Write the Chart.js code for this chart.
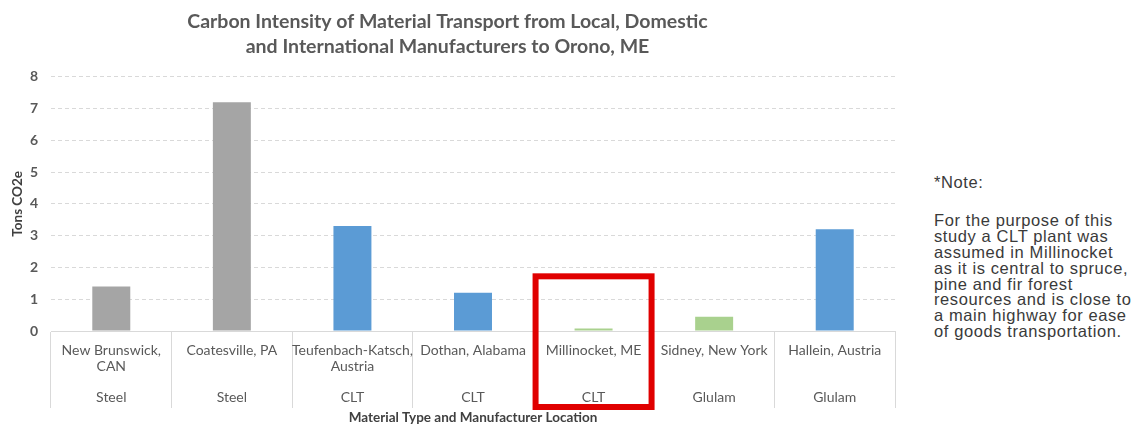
<!DOCTYPE html>
<html>
<head>
<meta charset="utf-8">
<script src="https://cdn.jsdelivr.net/npm/chart.js@4/dist/chart.umd.min.js"></script>
<style>
  html, body { margin: 0; padding: 0; background: #fff; }
  #wrap { position: relative; width: 1132px; height: 425px; }
  #chartBox { position: absolute; left: 0; top: 0; width: 900px; height: 425px; }
  #note { position: absolute; left: 934px; top: 175px; width: 198px;
          font-family: "Liberation Sans", Arial, sans-serif; font-size: 16.5px;
          letter-spacing: 0.6px; line-height: 15.9px; color: #3a3a3a; white-space: nowrap; }
  #note p { margin: 0; }
</style>
</head>
<body>
<div id="wrap">
  <div id="chartBox"><canvas id="carbonChart" width="900" height="425"></canvas></div>
  <div id="note">
    <p>*Note:</p>
    <p style="margin-top:22px">For the purpose of this<br>study a CLT plant was<br>assumed in Millinocket<br>as it is central to spruce,<br>pine and fir forest<br>resources and is close to<br>a main highway for ease<br>of goods transportation.</p>
  </div>
</div>
<script>
// Data
const locations = [
  ['New Brunswick,', 'CAN'],
  ['Coatesville, PA'],
  ['Teufenbach-Katsch,', 'Austria'],
  ['Dothan, Alabama'],
  ['Millinocket, ME'],
  ['Sidney, New York'],
  ['Hallein, Austria']
];
const materials = ['Steel', 'Steel', 'CLT', 'CLT', 'CLT', 'Glulam', 'Glulam'];
const tonsCO2e = [1.4, 7.2, 3.3, 1.2, 0.08, 0.45, 3.2];
const barColors = ['#a5a5a5', '#a5a5a5', '#5b9bd5', '#5b9bd5', '#a9d18e', '#a9d18e', '#5b9bd5'];
const yTicks = [0, 1, 2, 3, 4, 5, 6, 7, 8];
const highlightIndex = 4; // Millinocket

// each label: location lines, blank filler, material
const xLabels = locations.map((loc, i) => {
  const lines = loc.slice();
  while (lines.length < 3) lines.push('');
  lines.push(materials[i]);
  return lines;
});

// red box around the local plant
const highlightBox = {
  id: 'highlightBox',
  afterDraw(chart) {
    const x = chart.scales.x, y = chart.scales.y;
    const cx = x.getPixelForValue(highlightIndex);
    const half = 58;
    const top = y.getPixelForValue(1.72);
    const bottom = chart.chartArea.bottom + 76;
    const ctx = chart.ctx;
    ctx.save();
    ctx.strokeStyle = '#e00000';
    ctx.lineWidth = 6;
    ctx.strokeRect(cx - half, top, half * 2, bottom - top);
    ctx.restore();
  }
};

const carbonChart = new Chart(document.getElementById('carbonChart').getContext('2d'), {
  type: 'bar',
  data: {
    labels: xLabels,
    datasets: [{
      label: 'Tons CO2e',
      data: tonsCO2e,
      backgroundColor: barColors,
      barPercentage: 0.315,
      categoryPercentage: 1
    }]
  },
  plugins: [highlightBox],
  options: {
    responsive: false,
    animation: false,
    layout: { padding: { left: 0, right: 5, top: 0, bottom: 0 } },
    plugins: {
      legend: { display: false },
      tooltip: { enabled: false },
      title: {
        display: true,
        text: ['Carbon Intensity of Material Transport from Local, Domestic', 'and International Manufacturers to Orono, ME'],
        color: '#595959',
        font: { family: 'Lato', size: 19.5, weight: 'bold', lineHeight: 1.3 },
        padding: { top: 9, bottom: 17 }
      }
    },
    scales: {
      x: {
        offset: true,
        grid: { offset: true, drawOnChartArea: false, drawTicks: true, tickLength: 77, color: '#d9d9d9' },
        border: { display: true, color: '#d9d9d9' },
        ticks: {
          color: '#595959',
          font: { family: 'Lato', size: 14, lineHeight: 1.12 },
          padding: -65,
          maxRotation: 0,
          autoSkip: false
        },
        title: {
          display: true,
          text: 'Material Type and Manufacturer Location',
          color: '#404040',
          font: { family: 'Lato', size: 13.5, weight: 'bold' },
          padding: { top: 0, bottom: -1 }
        },
        afterFit(scale) { scale.height = 94; }
      },
      y: {
        min: 0,
        max: 8,
        afterBuildTicks(scale) { scale.ticks = yTicks.map(v => ({ value: v })); },
        grid: { color: '#d9d9d9', drawTicks: false },
        border: { display: false, dash: [4, 3] },
        ticks: {
          color: '#595959',
          font: { family: 'Lato', size: 14, weight: 'bold' },
          padding: 13
        },
        title: {
          display: true,
          text: 'Tons CO2e',
          color: '#404040',
          font: { family: 'Lato', size: 13.5, weight: 'bold' },
          padding: { top: 10, bottom: 0 }
        },
        afterFit(scale) { scale.width = 51; }
      }
    }
  }
});
</script>
</body>
</html>
